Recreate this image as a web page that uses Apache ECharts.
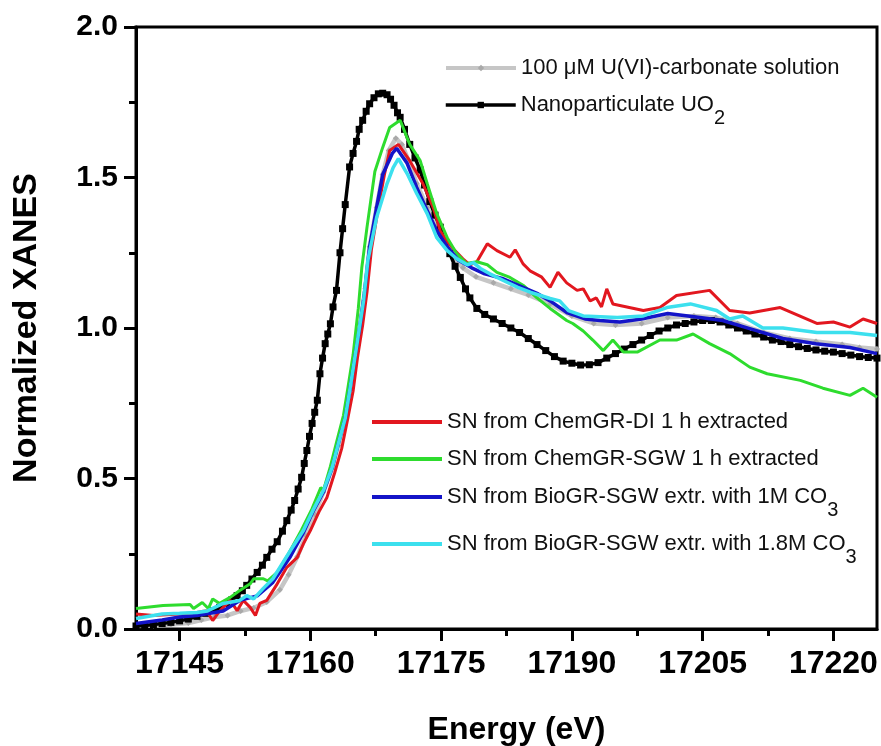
<!DOCTYPE html>
<html>
<head>
<meta charset="utf-8">
<script src="https://cdn.jsdelivr.net/npm/echarts@6/dist/echarts.min.js"></script>
<style>
  html, body { margin: 0; padding: 0; background: #fff; }
  #chart { width: 881px; height: 746px; }
</style>
</head>
<body>
<div id="chart"></div>
<script>
// U L3-edge XANES spectra: energy (eV) and normalized absorption per sample

const majorTicksE = [17145, 17160, 17175, 17190, 17205, 17220];
const minorTicksE = [17152.5, 17167.5, 17182.5, 17197.5, 17212.5];

// 100 uM U(VI)-carbonate solution (reference)
const carbonateE = [17140, 17142, 17144, 17146, 17147.5, 17149, 17150.5, 17152, 17153.5, 17155, 17156.5, 17157.5, 17158.5, 17159.5, 17160.5, 17161.5, 17162.5, 17163.2, 17164, 17164.5, 17165.1, 17165.7, 17166.3, 17166.8, 17167.6, 17168.3, 17169, 17169.8, 17170.5, 17171.2, 17172.2, 17173.4, 17174.5, 17175.5, 17176.5, 17177.5, 17179, 17181, 17183, 17185, 17187.5, 17190, 17192.5, 17195, 17198, 17201, 17204, 17206.5, 17209, 17212, 17215, 17218, 17221, 17223, 17225];
const carbonateV = [0.01, 0.012, 0.015, 0.02, 0.03, 0.04, 0.045, 0.06, 0.07, 0.09, 0.13, 0.18, 0.24, 0.31, 0.38, 0.455, 0.535, 0.61, 0.70, 0.79, 0.90, 1.01, 1.13, 1.27, 1.40, 1.51, 1.59, 1.63, 1.61, 1.56, 1.48, 1.40, 1.33, 1.27, 1.23, 1.20, 1.17, 1.15, 1.13, 1.11, 1.08, 1.04, 1.015, 1.01, 1.015, 1.035, 1.04, 1.035, 1.015, 0.985, 0.965, 0.955, 0.945, 0.935, 0.93];

// Nanoparticulate UO2 (reference)
const uo2E = [17140, 17141, 17142, 17143, 17144, 17145, 17146, 17147, 17148, 17148.8, 17149.6, 17150.4, 17151, 17151.6, 17152.2, 17152.7, 17153.3, 17153.9, 17154.5, 17155, 17155.6, 17156.2, 17156.8, 17157.3, 17157.8, 17158.2, 17158.6, 17159, 17159.3, 17159.6, 17159.9, 17160.2, 17160.5, 17160.8, 17161.1, 17161.4, 17161.7, 17162, 17162.3, 17162.6, 17163, 17163.4, 17163.7, 17164, 17164.5, 17164.9, 17165.3, 17165.6, 17166, 17166.4, 17166.8, 17167.3, 17167.8, 17168.3, 17168.8, 17169.2, 17169.6, 17170, 17170.3, 17170.8, 17171.4, 17172, 17172.6, 17173.1, 17173.7, 17174.3, 17174.9, 17175.4, 17176, 17176.6, 17177.2, 17177.8, 17178.3, 17179.1, 17180, 17181, 17182, 17183, 17184, 17185, 17186, 17187, 17188, 17189, 17190, 17191, 17192, 17193, 17194, 17195, 17196, 17197, 17198, 17199, 17200, 17201, 17202, 17203, 17204, 17205, 17206, 17207, 17208, 17209, 17210, 17211, 17212, 17213, 17214, 17215, 17216, 17217, 17218, 17219, 17220, 17221, 17222, 17223, 17224, 17225];
const uo2V = [0.01, 0.012, 0.015, 0.018, 0.022, 0.027, 0.033, 0.042, 0.052, 0.061, 0.072, 0.085, 0.097, 0.111, 0.127, 0.145, 0.166, 0.188, 0.212, 0.238, 0.265, 0.29, 0.325, 0.36, 0.395, 0.427, 0.465, 0.504, 0.55, 0.593, 0.64, 0.683, 0.72, 0.76, 0.848, 0.9, 0.948, 0.98, 1.014, 1.07, 1.125, 1.25, 1.33, 1.41, 1.535, 1.58, 1.62, 1.66, 1.69, 1.72, 1.745, 1.765, 1.778, 1.78, 1.775, 1.76, 1.74, 1.715, 1.70, 1.66, 1.61, 1.565, 1.525, 1.475, 1.42, 1.375, 1.335, 1.29, 1.247, 1.205, 1.168, 1.13, 1.10, 1.065, 1.045, 1.03, 1.015, 1.0, 0.985, 0.965, 0.945, 0.925, 0.905, 0.89, 0.883, 0.877, 0.878, 0.885, 0.9, 0.915, 0.93, 0.945, 0.96, 0.975, 0.99, 1.0, 1.01, 1.015, 1.02, 1.025, 1.025, 1.02, 1.01, 1.0, 0.99, 0.98, 0.97, 0.96, 0.955, 0.945, 0.938, 0.932, 0.927, 0.923, 0.92, 0.915, 0.91, 0.905, 0.902, 0.90];

// SN from ChemGR-DI, 1 h extracted
const chemDiE = [17140, 17142, 17145, 17147, 17148.1, 17148.8, 17149.6, 17150.8, 17151.6, 17152.3, 17153.1, 17153.7, 17154.2, 17155, 17156.2, 17157.3, 17158.5, 17159.2, 17160, 17161, 17161.9, 17162.8, 17163.6, 17164.3, 17164.9, 17165.4, 17166, 17166.5, 17167, 17167.8, 17168.5, 17169.1, 17170.1, 17171.4, 17172.9, 17174.1, 17174.9, 17175.6, 17176.5, 17177.5, 17178.3, 17179.1, 17180.3, 17181.4, 17182.9, 17183.5, 17184.4, 17185.2, 17186.5, 17187.5, 17188.4, 17189.4, 17190.6, 17191.3, 17192.1, 17192.8, 17193.4, 17194, 17194.7, 17195.5, 17198.2, 17200.1, 17202, 17205.8, 17208.1, 17210.4, 17213.9, 17218.1, 17220, 17221.9, 17223.4, 17225];
const chemDiV = [0.05, 0.045, 0.05, 0.055, 0.06, 0.028, 0.06, 0.095, 0.061, 0.095, 0.072, 0.045, 0.085, 0.095, 0.15, 0.205, 0.238, 0.283, 0.327, 0.39, 0.437, 0.52, 0.60, 0.70, 0.79, 0.90, 1.01, 1.12, 1.26, 1.40, 1.51, 1.59, 1.61, 1.556, 1.48, 1.40, 1.323, 1.29, 1.26, 1.23, 1.21, 1.22, 1.28, 1.257, 1.235, 1.26, 1.213, 1.19, 1.17, 1.135, 1.185, 1.15, 1.125, 1.13, 1.09, 1.10, 1.07, 1.13, 1.08, 1.075, 1.058, 1.068, 1.108, 1.125, 1.058, 1.05, 1.068, 1.015, 1.02, 1.003, 1.03, 1.015];

// SN from ChemGR-SGW, 1 h extracted
const chemSgwE = [17140, 17143.1, 17146.2, 17146.6, 17147.6, 17148.3, 17148.8, 17149.6, 17150.8, 17151.9, 17153.1, 17153.5, 17154.6, 17155.1, 17156.2, 17157.5, 17159, 17160.2, 17161.2, 17161.5, 17162.3, 17163, 17163.8, 17164.3, 17164.9, 17165.5, 17165.9, 17166.5, 17167.4, 17168.3, 17169.1, 17170.3, 17171.4, 17172.6, 17173.4, 17174.5, 17175.7, 17176.8, 17177.9, 17179.1, 17180.3, 17181.4, 17182.9, 17184.5, 17186, 17187.5, 17188.3, 17189.4, 17190.1, 17191.3, 17192.4, 17193.6, 17194.7, 17195.9, 17197.5, 17200.1, 17202, 17203.9, 17205.8, 17208.1, 17210.4, 17212.4, 17216.2, 17218.8, 17221.9, 17223.4, 17225];
const chemSgwV = [0.068, 0.078, 0.081, 0.068, 0.088, 0.068, 0.10, 0.085, 0.105, 0.128, 0.15, 0.167, 0.167, 0.16, 0.188, 0.25, 0.33, 0.40, 0.47, 0.46, 0.54, 0.62, 0.71, 0.80, 0.91, 1.065, 1.20, 1.335, 1.52, 1.60, 1.666, 1.69, 1.61, 1.556, 1.48, 1.38, 1.30, 1.247, 1.214, 1.22, 1.21, 1.185, 1.168, 1.14, 1.10, 1.065, 1.048, 1.025, 1.015, 0.99, 0.96, 0.925, 0.96, 0.92, 0.92, 0.96, 0.96, 0.98, 0.948, 0.915, 0.87, 0.848, 0.826, 0.80, 0.776, 0.80, 0.77];

// SN from BioGR-SGW, extracted with 1 M carbonate
const bio1E = [17140, 17143, 17145, 17147, 17149, 17150, 17151.9, 17153.9, 17155.7, 17157.7, 17159.2, 17160.3, 17161.5, 17162.5, 17163.2, 17164, 17164.5, 17165.1, 17165.7, 17166.2, 17166.8, 17167.6, 17168.3, 17169.4, 17169.9, 17171.1, 17172.2, 17173.4, 17174.5, 17175.7, 17177, 17178.5, 17180, 17182, 17184, 17186, 17187.5, 17189.5, 17191.5, 17193.2, 17195.5, 17198, 17201, 17204.7, 17207.3, 17210.4, 17214.2, 17218, 17221.9, 17225];
const bio1V = [0.018, 0.03, 0.04, 0.045, 0.055, 0.06, 0.095, 0.11, 0.155, 0.24, 0.32, 0.39, 0.455, 0.535, 0.615, 0.70, 0.79, 0.90, 1.01, 1.115, 1.27, 1.40, 1.51, 1.58, 1.597, 1.547, 1.467, 1.39, 1.323, 1.27, 1.225, 1.20, 1.18, 1.165, 1.14, 1.115, 1.09, 1.05, 1.03, 1.025, 1.02, 1.03, 1.048, 1.035, 1.025, 0.998, 0.965, 0.948, 0.935, 0.915];

// SN from BioGR-SGW, extracted with 1.8 M carbonate
const bio18E = [17140, 17143, 17145, 17147, 17148.2, 17150, 17151.9, 17152.7, 17153.5, 17154.6, 17155.7, 17157.7, 17159.2, 17160.3, 17161.5, 17162.5, 17163.2, 17164, 17164.5, 17165.1, 17165.7, 17166.1, 17166.6, 17167.6, 17168.8, 17169.5, 17170.1, 17171.1, 17172.2, 17173.4, 17174.5, 17175.7, 17176.8, 17178, 17178.7, 17179.5, 17180.6, 17182.2, 17183.8, 17185.3, 17187.5, 17188.6, 17189.6, 17191.3, 17195.2, 17198.2, 17200.9, 17203.6, 17206.6, 17208.1, 17209.6, 17211.9, 17214.2, 17218.1, 17221.9, 17225];
const bio18V = [0.035, 0.05, 0.052, 0.055, 0.06, 0.085, 0.095, 0.111, 0.10, 0.135, 0.167, 0.26, 0.327, 0.394, 0.46, 0.537, 0.615, 0.70, 0.79, 0.90, 1.014, 1.09, 1.225, 1.367, 1.48, 1.533, 1.563, 1.513, 1.447, 1.38, 1.30, 1.257, 1.23, 1.21, 1.217, 1.198, 1.18, 1.157, 1.135, 1.118, 1.098, 1.09, 1.058, 1.04, 1.035, 1.04, 1.068, 1.08, 1.058, 1.03, 1.04, 1.0, 1.0, 0.985, 0.985, 0.975];

const seriesNames = [
  '100 \u03bcM U(VI)-carbonate solution',
  'Nanoparticulate UO2',
  'SN from ChemGR-DI 1 h extracted',
  'SN from ChemGR-SGW 1 h extracted',
  'SN from BioGR-SGW extr. with 1M CO3',
  'SN from BioGR-SGW extr. with 1.8M CO3'
];

const zip = (xs, ys) => xs.map((x, i) => [x, ys[i]]);

const FONT = '"Liberation Sans", Arial, Helvetica, sans-serif';

const chart = echarts.init(document.getElementById('chart'), null, { renderer: 'canvas' });

// chemical formulas get a lowered digit
const withSubscript = name => name.replace(/(UO|CO)(\d)$/, '$1{sub|$2}');
const legendText = {
  fontFamily: FONT,
  fontSize: 22,
  color: '#111',
  rich: {
    sub: { fontFamily: FONT, fontSize: 20, color: '#111', padding: [26, 0, 0, 0] }
  }
};

function legendFor(name, left, centerY, hasSub, lineWidth, showMarker) {
  const entry = {
    data: [name],
    left: left,
    top: centerY - (hasSub ? 10 : 11),
    padding: 0,
    orient: 'vertical',
    itemWidth: 70,
    itemHeight: 8,
    itemGap: 0,
    selectedMode: false,
    formatter: withSubscript,
    textStyle: legendText,
    lineStyle: { width: lineWidth }
  };
  if (!showMarker) {
    entry.itemStyle = { color: 'rgba(0,0,0,0)', borderWidth: 0, opacity: 0 };
  }
  return entry;
}

const option = {
  backgroundColor: '#ffffff',
  animation: false,
  grid: {
    left: 136, right: 4, top: 27, bottom: 117,
    show: true, borderColor: '#000', borderWidth: 3,
    containLabel: false, outerBoundsMode: 'none'
  },
  legend: [
    legendFor(seriesNames[0], 444, 68, false, 4, true),
    legendFor(seriesNames[1], 444, 104, true, 3.5, true),
    legendFor(seriesNames[2], 370, 422, false, 4, false),
    legendFor(seriesNames[3], 370, 459, false, 4, false),
    legendFor(seriesNames[4], 370, 496, true, 4, false),
    legendFor(seriesNames[5], 370, 543, true, 4, false)
  ],
  xAxis: [
    {
      type: 'value',
      min: 17140, max: 17225,
      name: 'Energy (eV)',
      nameLocation: 'middle',
      nameGap: 85,
      nameTextStyle: { fontFamily: FONT, fontSize: 32, fontWeight: 'bold', color: '#000', padding: [0, 0, 0, 20] },
      axisLine: { show: true, onZero: false, lineStyle: { color: '#000', width: 3 } },
      axisTick: { show: true, inside: false, length: 12, customValues: majorTicksE, lineStyle: { color: '#000', width: 3 } },
      axisLabel: { show: true, customValues: majorTicksE, margin: 19, fontFamily: FONT, fontSize: 32, fontWeight: 'bold', color: '#000', formatter: v => String(v) },
      splitLine: { show: false }
    },
    {
      type: 'value',
      min: 17140, max: 17225,
      position: 'bottom',
      axisLine: { show: false, onZero: false },
      axisTick: { show: true, inside: false, length: 7, customValues: minorTicksE, lineStyle: { color: '#000', width: 3 } },
      axisLabel: { show: false },
      splitLine: { show: false }
    }
  ],
  yAxis: {
    type: 'value',
    min: 0, max: 2, interval: 0.5,
    name: 'Normalized XANES',
    nameLocation: 'middle',
    nameGap: 92,
    nameTextStyle: { fontFamily: FONT, fontSize: 34, fontWeight: 'bold', color: '#000' },
    axisLine: { show: true, onZero: false, lineStyle: { color: '#000', width: 3 } },
    axisTick: { show: true, inside: false, length: 12, lineStyle: { color: '#000', width: 3 } },
    minorTick: { show: true, splitNumber: 2, length: 7, lineStyle: { color: '#000', width: 3 } },
    axisLabel: { margin: 18, fontFamily: FONT, fontSize: 30, fontWeight: 'bold', color: '#000', formatter: v => v.toFixed(1) },
    splitLine: { show: false }
  },
  series: [
    {
      name: seriesNames[0], type: 'line', data: zip(carbonateE, carbonateV),
      symbol: 'diamond', symbolSize: 6, showSymbol: true,
      lineStyle: { color: '#c6c6c6', width: 4.5 },
      itemStyle: { color: '#a9a9a9' }, z: 2
    },
    {
      name: seriesNames[1], type: 'line', data: zip(uo2E, uo2V),
      symbol: 'rect', symbolSize: 7, showSymbol: true,
      lineStyle: { color: '#000', width: 3.5 },
      itemStyle: { color: '#000' }, z: 3
    },
    {
      name: seriesNames[2], type: 'line', data: zip(chemDiE, chemDiV),
      symbol: 'none', lineStyle: { color: '#e2171f', width: 3 },
      itemStyle: { color: '#e2171f' }, z: 4
    },
    {
      name: seriesNames[3], type: 'line', data: zip(chemSgwE, chemSgwV),
      symbol: 'none', lineStyle: { color: '#2edc2e', width: 3 },
      itemStyle: { color: '#2edc2e' }, z: 5
    },
    {
      name: seriesNames[4], type: 'line', data: zip(bio1E, bio1V),
      symbol: 'none', lineStyle: { color: '#1414c8', width: 3.5 },
      itemStyle: { color: '#1414c8' }, z: 6
    },
    {
      name: seriesNames[5], type: 'line', data: zip(bio18E, bio18V),
      symbol: 'none', lineStyle: { color: '#3ce0ee', width: 3.5 },
      itemStyle: { color: '#3ce0ee' }, z: 7
    }
  ]
};

chart.setOption(option);
</script>
</body>
</html>
